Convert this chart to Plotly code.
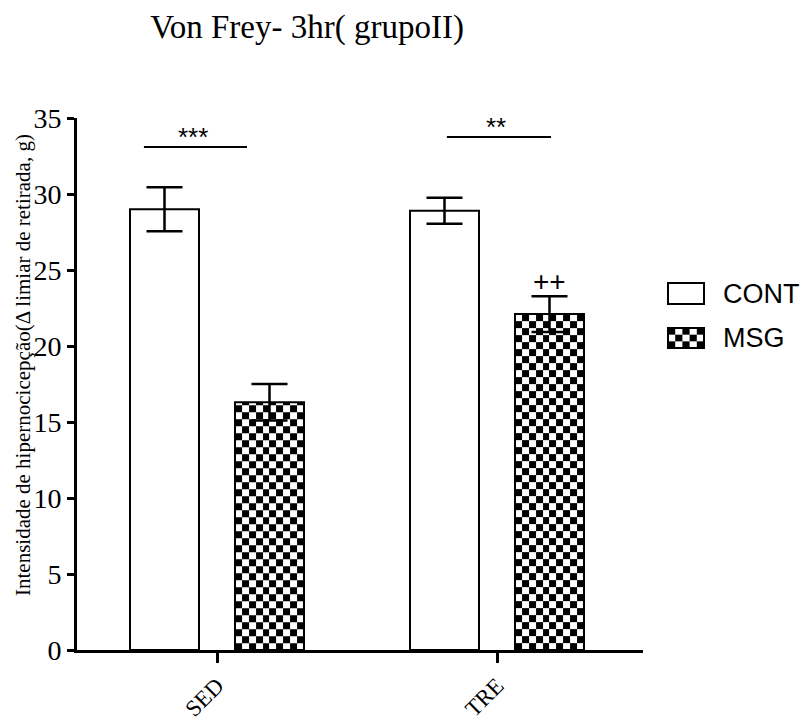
import numpy as np
import plotly.graph_objects as go

# ---- data ----
groups = ["SED", "TRE"]
cont_mean = [29.0, 28.9]
cont_sem = [1.45, 0.85]
msg_mean = [16.3, 22.1]
msg_sem = [1.2, 1.18]
series_names = ["CONT", "MSG"]

# ---- geometry of the grouped bars (axis units, one unit per group) ----
BARGAP = 0.25
BARGROUPGAP = 0.343
slot = (1 - BARGAP) / 2
bar_w = slot * (1 - BARGROUPGAP)
x_pos = np.arange(len(groups), dtype=float)
cont_x = x_pos - slot / 2
msg_x = x_pos + slot / 2

SERIF = "Liberation Serif, Times New Roman, serif"
SANS = "Liberation Sans, Arial, sans-serif"

# plot area in pixels
W, H = 803, 726
M_L, M_R, M_T, M_B = 77, 160, 118, 76
PW, PH = W - M_L - M_R, H - M_T - M_B
Y_MAX = 35
px_per_unit = PH / Y_MAX
CELL_PX = 7.0
N_COLS = 10

fig = go.Figure()

# checkerboard fill of the MSG bars
for xc, val in zip(msg_x, msg_mean):
    xe = np.linspace(xc - bar_w / 2, xc + bar_w / 2, N_COLS + 1)
    ye = list(np.arange(0, val, CELL_PX / px_per_unit))
    ye.append(val)
    ye = np.array(ye)
    nr = len(ye) - 1
    z = [[(i + j) % 2 for j in range(N_COLS)] for i in range(nr)]
    fig.add_trace(go.Heatmap(
        x=xe, y=ye, z=z, zmin=0, zmax=1,
        colorscale=[[0, "black"], [1, "white"]],
        showscale=False, hoverinfo="skip", zsmooth=False,
    ))

err_style = dict(type="data", color="black", thickness=2.5, width=18, visible=True)

fig.add_trace(go.Bar(
    x=cont_x, y=cont_mean, width=bar_w, name=series_names[0],
    marker=dict(color="white", line=dict(color="black", width=2)),
    error_y=dict(array=cont_sem, **err_style),
    showlegend=False,
))
fig.add_trace(go.Bar(
    x=msg_x, y=msg_mean, width=bar_w, name=series_names[1],
    marker=dict(color="rgba(0,0,0,0)", line=dict(color="black", width=2)),
    error_y=dict(array=msg_sem, **err_style),
    showlegend=False,
))

shapes = []
annotations = []

# significance brackets between CONT and MSG within each group
sig_marks = ["***", "**"]
sig_lines = [(-0.261, 0.107, 33.1), (-0.179, 0.193, 33.75)]
for g, (mark, (x0, x1, yl)) in enumerate(zip(sig_marks, sig_lines)):
    shapes.append(dict(type="line", xref="x", yref="y",
                       x0=g + x0, x1=g + x1, y0=yl, y1=yl,
                       line=dict(color="black", width=2)))
    annotations.append(dict(xref="x", yref="y", x=g + (x0 + x1) / 2 - 0.01, y=yl,
                            text=mark, showarrow=False, yanchor="bottom",
                            yshift=-7, font=dict(family=SANS, size=26, color="black")))

# "++" above the trained MSG bar
annotations.append(dict(xref="x", yref="y", x=msg_x[1], y=msg_mean[1] + msg_sem[1],
                        text="++", showarrow=False, yanchor="bottom", yshift=-3,
                        font=dict(family=SANS, size=28, color="black")))

# y-axis title
annotations.append(dict(xref="paper", yref="paper", x=(23 - M_L) / PW, y=(H - M_B - 365) / PH,
                        text="Intensidade de hipernocicepção(Δ limiar de retirada, g)",
                        textangle=-90, showarrow=False, xanchor="center", yanchor="middle",
                        font=dict(family=SERIF, size=21, color="black")))

# legend drawn by hand: open box for CONT, checkered box for MSG
def px_to_paper(px, py):
    return (px - M_L) / PW, (H - M_B - py) / PH

lx0, lx1 = 668, 704
ly = [(283, 304), (328, 348)]
x0p, y1p = px_to_paper(lx0, ly[0][0])
x1p, y0p = px_to_paper(lx1, ly[0][1])
shapes.append(dict(type="rect", xref="paper", yref="paper", x0=x0p, x1=x1p, y0=y0p, y1=y1p,
                   fillcolor="white", line=dict(color="black", width=2)))
ncx, ncy = 5, 3
cw = (lx1 - lx0) / ncx
ch = (ly[1][1] - ly[1][0]) / ncy
for i in range(ncy):
    for j in range(ncx):
        if (i + j) % 2 == 0:
            a0, b1 = px_to_paper(lx0 + j * cw, ly[1][0] + i * ch)
            a1, b0 = px_to_paper(lx0 + (j + 1) * cw, ly[1][0] + (i + 1) * ch)
            shapes.append(dict(type="rect", xref="paper", yref="paper",
                               x0=a0, x1=a1, y0=b0, y1=b1,
                               fillcolor="black", line=dict(width=0)))
x0p, y1p = px_to_paper(lx0, ly[1][0])
x1p, y0p = px_to_paper(lx1, ly[1][1])
shapes.append(dict(type="rect", xref="paper", yref="paper", x0=x0p, x1=x1p, y0=y0p, y1=y1p,
                   fillcolor="rgba(0,0,0,0)", line=dict(color="black", width=2)))
for name, (t, b) in zip(series_names, ly):
    xp, yp = px_to_paper(721, (t + b) / 2)
    annotations.append(dict(xref="paper", yref="paper", x=xp, y=yp, text=name,
                            showarrow=False, xanchor="left", yanchor="middle",
                            font=dict(family=SANS, size=27, color="black")))

fig.update_layout(
    width=W, height=H,
    margin=dict(l=M_L, r=M_R, t=M_T, b=M_B, autoexpand=False),
    paper_bgcolor="white", plot_bgcolor="white",
    title=dict(text="Von Frey- 3hr( grupoII)", x=307 / W, xanchor="center",
               y=1 - 26 / H, yanchor="middle",
               font=dict(family=SERIF, size=33, color="black")),
    barmode="overlay",
    shapes=shapes, annotations=annotations,
    xaxis=dict(range=[-0.5, -0.5 + PW / 280], tickvals=list(x_pos), ticktext=groups,
               tickangle=-45, ticks="outside", ticklen=10, tickwidth=3, tickcolor="black",
               showline=True, linewidth=3, linecolor="black", showgrid=False, zeroline=False,
               automargin=False,
               tickfont=dict(family=SERIF, size=23, color="black")),
    yaxis=dict(range=[0, Y_MAX], dtick=5, ticks="outside", ticklen=7, tickwidth=3,
               tickcolor="black", showline=True, linewidth=3, linecolor="black",
               showgrid=False, zeroline=False, automargin=False,
               tickfont=dict(family=SERIF, size=28, color="black")),
)

fig.write_html("out.html")
